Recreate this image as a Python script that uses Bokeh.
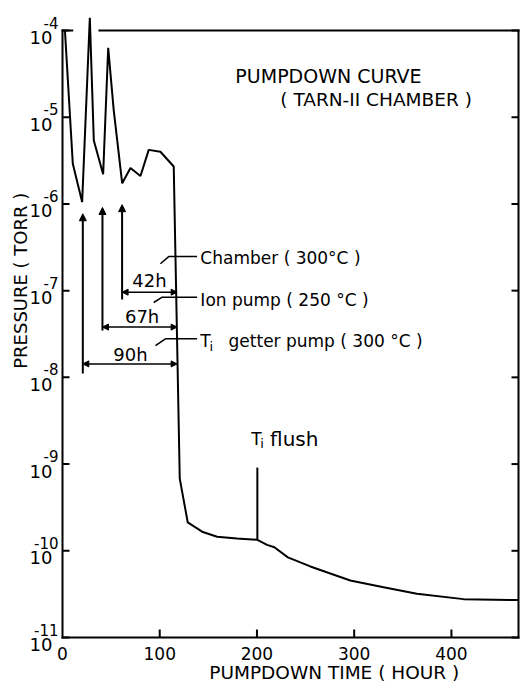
import math
from bokeh.plotting import figure
from bokeh.models import (Range1d, Arrow, NormalHead, Label, LabelSet,
                          ColumnDataSource)
from bokeh.core.properties import value
from bokeh.embed import file_html
from bokeh.resources import INLINE

# ---------------- data ----------------
hours = [2.5, 10.6, 20.2, 28.1, 32.2, 41.8, 47.0, 52.7, 61.4, 69.9, 80.2, 88.7,
         100.7, 114.4, 120.6, 128.8, 143.6, 159.0, 179.5, 200.4, 210.4, 217.9,
         231.8, 254.9, 296.0, 330.2, 364.5, 412.4, 468.7]
pressure = [1.0e-4, 2.9e-6, 1.05e-6, 1.4e-4, 5.4e-6, 2.2e-6, 6.3e-5, 1.2e-5,
            1.73e-6, 2.6e-6, 2.1e-6, 4.2e-6, 4.0e-6, 2.7e-6, 6.8e-10, 2.13e-10,
            1.66e-10, 1.45e-10, 1.39e-10, 1.34e-10, 1.17e-10, 1.10e-10, 8.4e-11,
            6.6e-11, 4.55e-11, 3.8e-11, 3.2e-11, 2.77e-11, 2.7e-11]

flush_hour = 200.4
flush_base = 1.34e-10
flush_peak = 9.1e-10

bake_labels = ["42h", "67h", "90h"]
bake_start = [61.3, 41.1, 20.9]
bake_end = 117.9
bake_arrow_p = [9.6e-8, 3.8e-8, 1.43e-8]
marker_top_p = [9.8e-7, 9.1e-7, 7.7e-7]
marker_bottom_p = [7.9e-8, 3.47e-8, 1.11e-8]
bake_label_x = [89.4, 81.9, 69.9]
bake_label_p = [1.31e-7, 5.0e-8, 1.85e-8]

y_exponents = [-4, -5, -6, -7, -8, -9, -10, -11]
x_ticks = [0, 100, 200, 300, 400]
x_min, x_max = 0, 469
y_min, y_max = 1e-11, 1e-4

FONT = "DejaVu Sans"

# ---------------- layout (pixels) ----------------
W, H = 522, 688
left_px, right_px, top_px, bottom_px = 62, 518, 30, 637
kx = (right_px - left_px) / (x_max - x_min)               # px per hour
ky = (bottom_px - top_px) / (math.log10(y_max) - math.log10(y_min))  # px per decade

x_range = Range1d(x_min - left_px / kx, x_max + (W - right_px) / kx)
y_range = Range1d(10 ** (math.log10(y_min) - (H - bottom_px) / ky),
                  10 ** (math.log10(y_max) + top_px / ky))

p = figure(width=W, height=H, x_range=x_range, y_range=y_range,
           y_axis_type="log", output_backend="svg", toolbar_location=None,
           min_border=0)
p.axis.visible = False
p.outline_line_color = None
p.grid.visible = False
p.background_fill_color = "white"
p.border_fill_color = "white"

yticks = [10.0 ** e for e in y_exponents]
tick_dx = 7 / kx
tick_fy = 10 ** (8 / ky)

# frame / axes
top_gap = (10.0, 38.0)
p.segment(x0=[x_min, x_max, x_min, x_min, top_gap[1]],
          y0=[y_min, y_min, y_min, y_max, y_max],
          x1=[x_min, x_max, x_max, top_gap[0], x_max],
          y1=[y_max, y_max, y_min, y_max, y_max],
          line_width=2, line_color="black", line_cap="square")
# left and right ticks
p.segment(x0=[x_min] * len(yticks), y0=yticks,
          x1=[x_min + tick_dx] * len(yticks), y1=yticks,
          line_width=2, line_color="black")
p.segment(x0=[x_max] * len(yticks), y0=yticks,
          x1=[x_max - tick_dx] * len(yticks), y1=yticks,
          line_width=2, line_color="black")
# bottom ticks
p.segment(x0=x_ticks[1:], y0=[y_min] * 4, x1=x_ticks[1:],
          y1=[y_min * tick_fy] * 4, line_width=2, line_color="black")

# tick labels
xsrc = ColumnDataSource(dict(x=x_ticks, y=[y_min] * len(x_ticks),
                             t=[str(v) for v in x_ticks]))
p.add_layout(LabelSet(source=xsrc, x="x", y="y", text="t", y_offset=-16,
                      text_align="center", text_baseline="middle",
                      text_font=value(FONT), text_font_size=value("17px"),
                      text_color="black"))

ysrc = ColumnDataSource(dict(x=[x_min] * len(yticks), y=yticks,
                             base=["10"] * len(yticks),
                             ex=[str(e) for e in y_exponents]))
p.add_layout(LabelSet(source=ysrc, x="x", y="y", text="base", x_offset=-10,
                      y_offset=-7, text_align="right", text_baseline="middle",
                      text_font=value(FONT), text_font_size=value("18px"),
                      text_color="black"))
p.add_layout(LabelSet(source=ysrc, x="x", y="y", text="ex", x_offset=-4,
                      y_offset=8, text_align="right", text_baseline="middle",
                      text_font=value(FONT), text_font_size=value("15px"),
                      text_color="black"))

# ---------------- curve ----------------
p.line(hours, pressure, line_width=2, line_color="black")
p.line([flush_hour, flush_hour], [flush_base, flush_peak], line_width=2,
       line_color="black")

# bake-out markers and double arrows
for i in range(3):
    p.add_layout(Arrow(x_start=bake_start[i], y_start=marker_bottom_p[i],
                       x_end=bake_start[i], y_end=marker_top_p[i],
                       end=NormalHead(size=7, fill_color="black", line_color="black"),
                       line_width=2, line_color="black"))
    p.add_layout(Arrow(x_start=bake_start[i], y_start=bake_arrow_p[i],
                       x_end=bake_end, y_end=bake_arrow_p[i],
                       start=NormalHead(size=6, fill_color="black", line_color="black"),
                       end=NormalHead(size=6, fill_color="black", line_color="black"),
                       line_width=1.5, line_color="black"))

p.add_layout(LabelSet(source=ColumnDataSource(dict(x=bake_label_x, y=bake_label_p,
                                                   t=bake_labels)),
                      x="x", y="y", text="t", text_align="center",
                      text_baseline="middle", text_font=value(FONT),
                      text_font_size=value("18px"), text_color="black"))

# leaders to explanations
leader_x = [[100.7, 109.2, 138.4], [93.8, 102.5, 138.4], [95.6, 105.9, 138.4]]
leader_p = [[2.04e-7, 2.47e-7, 2.47e-7], [7.3e-8, 8.4e-8, 8.4e-8],
            [2.33e-8, 2.78e-8, 2.78e-8]]
for lx, lp in zip(leader_x, leader_p):
    p.line(lx, lp, line_width=1.5, line_color="black")

note_x = 141.8
p.add_layout(Label(x=note_x, y=2.4e-7, text="Chamber ( 300°C )",
                   text_font=FONT, text_font_size="17px", text_baseline="middle",
                   text_color="black"))
p.add_layout(Label(x=note_x, y=7.9e-8, text="Ion pump ( 250 °C )",
                   text_font=FONT, text_font_size="17px", text_baseline="middle",
                   text_color="black"))
p.add_layout(Label(x=note_x, y=2.6e-8, text="T",
                   text_font=FONT, text_font_size="17px", text_baseline="middle",
                   text_color="black"))
p.add_layout(Label(x=note_x + 9.5, y=2.6e-8, y_offset=-5, text="i",
                   text_font=FONT, text_font_size="13px", text_baseline="middle",
                   text_color="black"))
p.add_layout(Label(x=note_x + 29, y=2.6e-8, text="getter pump ( 300 °C )",
                   text_font=FONT, text_font_size="17px", text_baseline="middle",
                   text_color="black"))

# Ti flush
p.add_layout(Label(x=194.2, y=1.97e-9, text="T",
                   text_font=FONT, text_font_size="17px", text_baseline="middle",
                   text_color="black"))
p.add_layout(Label(x=203.5, y=1.97e-9, y_offset=-5, text="i",
                   text_font=FONT, text_font_size="13px", text_baseline="middle",
                   text_color="black"))
p.add_layout(Label(x=213.5, y=1.97e-9, text="flush",
                   text_font=FONT, text_font_size="20px", text_baseline="middle",
                   text_color="black"))

# title
p.add_layout(Label(x=177.8, y=2.95e-5, text="PUMPDOWN CURVE",
                   text_font=FONT, text_font_size="19px", text_baseline="middle",
                   text_color="black"))
p.add_layout(Label(x=224.0, y=1.6e-5, text="( TARN-II CHAMBER )",
                   text_font=FONT, text_font_size="18.5px", text_baseline="middle",
                   text_color="black"))

# axis titles
p.add_layout(Label(x=-43.7, y=1.3e-7, text="PRESSURE ( TORR )", angle=math.pi / 2,
                   text_align="center", text_baseline="middle",
                   text_font=FONT, text_font_size="18px", text_color="black"))
p.add_layout(Label(x=279.5, y=3.9e-12, text="PUMPDOWN TIME ( HOUR )",
                   text_align="center", text_baseline="middle",
                   text_font=FONT, text_font_size="18.5px", text_color="black"))

open("out.html", "w").write(file_html(p, INLINE))
